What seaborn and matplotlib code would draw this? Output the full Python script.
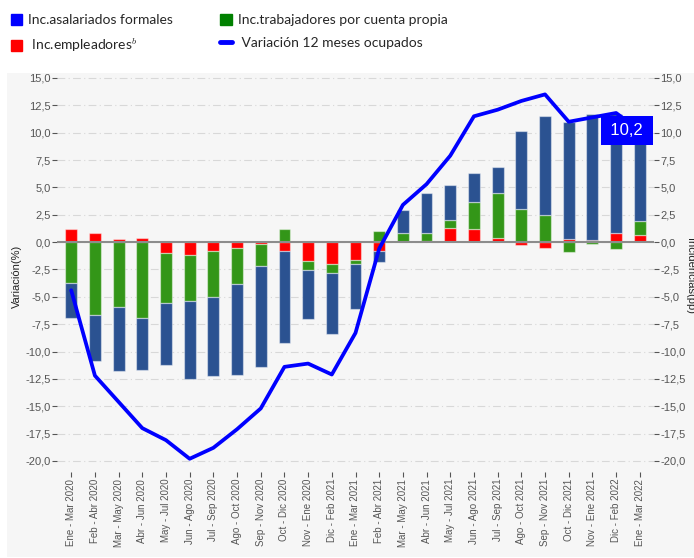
import numpy as np
import matplotlib
matplotlib.use("Agg")
import matplotlib.pyplot as plt
import matplotlib.transforms as mtransforms
import seaborn as sns
import pandas as pd
from matplotlib.patches import Patch, Rectangle
from matplotlib.lines import Line2D

periodos = [
    "Ene - Mar 2020", "Feb - Abr 2020", "Mar - May 2020", "Abr - Jun 2020",
    "May - Jul 2020", "Jun - Ago 2020", "Jul - Sep 2020", "Ago - Oct 2020",
    "Sep - Nov 2020", "Oct - Dic 2020", "Nov - Ene 2020", "Dic - Feb 2021",
    "Ene - Mar 2021", "Feb - Abr 2021", "Mar - May 2021", "Abr - Jun 2021",
    "May - Jul 2021", "Jun - Ago 2021", "Jul - Sep 2021", "Ago - Oct 2021",
    "Sep - Nov 2021", "Oct - Dic 2021", "Nov - Ene 2021", "Dic - Feb 2022",
    "Ene - Mar 2022",
]
# incidencias (pp)
empleadores = [1.2, 0.8, 0.3, 0.4, -1.0, -1.2, -0.8, -0.5, -0.2, -0.8, -1.75, -2.0,
               -1.6, -0.8, 0.0, 0.1, 1.3, 1.2, 0.4, -0.3, -0.5, 0.25, 0.2, 0.8, 0.65]
cuenta_propia = [-3.7, -6.7, -5.9, -6.95, -4.55, -4.15, -4.2, -3.3, -2.0, 1.2, -0.8, -0.8,
                 -0.4, 1.0, 0.8, 0.7, 0.7, 2.5, 4.05, 3.0, 2.5, -0.9, -0.2, -0.6, 1.3]
asalariados = [-3.2, -4.2, -5.9, -4.75, -5.7, -7.15, -7.25, -8.3, -9.25, -8.4, -4.5, -5.6,
               -4.1, -1.0, 2.1, 3.7, 3.2, 2.6, 2.4, 7.2, 9.0, 10.7, 11.5, 10.9, 7.9]
# variacion 12 meses ocupados (%)
variacion = [-4.4, -12.2, -14.6, -17.0, -18.1, -19.8, -18.8, -17.1, -15.2, -11.4, -11.1, -12.1,
             -8.3, -0.6, 3.4, 5.3, 7.9, 11.5, 12.1, 12.9, 13.5, 11.0, 11.4, 11.8, 10.2]

yticks = np.arange(-20, 15.1, 2.5)
ytick_labels = [f"{v:.1f}".replace(".", ",") for v in yticks]

df = pd.DataFrame({"periodo": periodos, "empleadores": empleadores,
                   "cuenta_propia": cuenta_propia, "asalariados": asalariados,
                   "variacion": variacion})


def diverging_bottoms(layers):
    # positives stack upward from 0, negatives downward from 0
    pos = np.zeros(len(layers[0]))
    neg = np.zeros(len(layers[0]))
    out = []
    for v in layers:
        v = np.asarray(v, dtype=float)
        out.append(np.where(v >= 0, pos, neg))
        pos = pos + np.clip(v, 0, None)
        neg = neg + np.clip(v, None, 0)
    return out


sns.set_style("white")
plt.rcParams["font.family"] = ["Liberation Sans", "DejaVu Sans"]
plt.rcParams["mathtext.fontset"] = "cm"

W, H = 694, 558
fig = plt.figure(figsize=(W / 100, H / 100), dpi=100)
fig.patches.append(Rectangle((7 / W, 0.0018), 1 - 7 / W, (557 - 73) / H,
                             transform=fig.transFigure, facecolor="#f6f6f6",
                             edgecolor="none", zorder=-10))
ax = fig.add_axes([57 / W, 1 - 471.9 / H, (654 - 57) / W, (471.9 - 73.6) / H])
ax.set_facecolor("none")

cols = ["empleadores", "cuenta_propia", "asalariados"]
colors = ["#ff0000", "#339618", "#2b5291"]
bottoms = diverging_bottoms([df[c] for c in cols])
for c, col, b in zip(cols, colors, bottoms):
    sns.barplot(data=df, x="periodo", y=c, color=col, saturation=1, width=0.5,
                bottom=b, errorbar=None, ax=ax, edgecolor=(1, 1, 1, 0.45),
                linewidth=0.9, zorder=2)

ax.axhline(0, color="#8c8c8c", lw=1.5, zorder=3)
sns.lineplot(data=df, x="periodo", y="variacion", sort=False, color="#0000ff",
             linewidth=2.7, ax=ax, zorder=4)

ax.set_xlim(-0.6, len(periodos) - 0.4)
ax.set_ylim(-21.0, 15.4)
ax.set_yticks(yticks)
ax.set_yticklabels(ytick_labels)
ax.yaxis.grid(True, color="#d8d8d8", linestyle=(0, (7, 3, 1, 3)), lw=0.8)
ax.set_axisbelow(True)
ax.set_xlabel("")
ax.set_ylabel("")
ax.tick_params(axis="x", labelrotation=90, labelsize=7, colors="#555555",
               length=3.5, width=0.8, pad=1.5, bottom=True)
ax.tick_params(axis="y", labelsize=8, colors="#555555", length=3.5, width=0.8,
               pad=1, left=True)
for s in ax.spines.values():
    s.set_visible(False)

ax2 = ax.twinx()
ax2.set_ylim(ax.get_ylim())
ax2.set_yticks(yticks)
ax2.set_yticklabels(ytick_labels)
ax2.tick_params(axis="y", labelsize=8, colors="#555555", length=3.5, width=0.8,
                pad=1, right=True)
for s in ax2.spines.values():
    s.set_visible(False)

# value label for the last point, box flush with the right edge of the plot
tr = mtransforms.blended_transform_factory(ax.transAxes, ax.transData)
ax2.text(0.9545, variacion[-1], "\u200910,2\u2009", transform=tr, ha="center",
         va="center", fontsize=12, color="white", zorder=6,
         bbox=dict(boxstyle="square,pad=0.4", fc="#0000ff", ec="none"))

fig.text(12 / W, 1 - 276 / H, "Variación(%)", rotation=90, ha="left", va="center",
         fontsize=8, color="#222222")
fig.text(685 / W, 1 - 276 / H, "Incidencias(pp)", rotation=270, ha="left", va="center",
         fontsize=8, color="#222222")

handles = [Patch(color="#0000ff"), Patch(color="#ff0000"),
           Patch(color="#008000"), Line2D([0], [0], color="#0000ff", lw=3.5)]
labels = ["Inc.asalariados formales", r" Inc.empleadores$^b$",
          "Inc.trabajadores por cuenta propia", " Variación 12 meses ocupados"]
fig.legend(handles, labels, loc="upper left", bbox_to_anchor=(11 / W, 1 - 14 / H),
           ncol=2, frameon=False, borderpad=0, borderaxespad=0,
           handlelength=0.8, handleheight=0.8, handletextpad=0.45,
           columnspacing=3.4, labelspacing=0.75,
           prop={"family": ["Lato", "DejaVu Sans"], "size": 10})

fig.savefig("out.png", dpi=100)
